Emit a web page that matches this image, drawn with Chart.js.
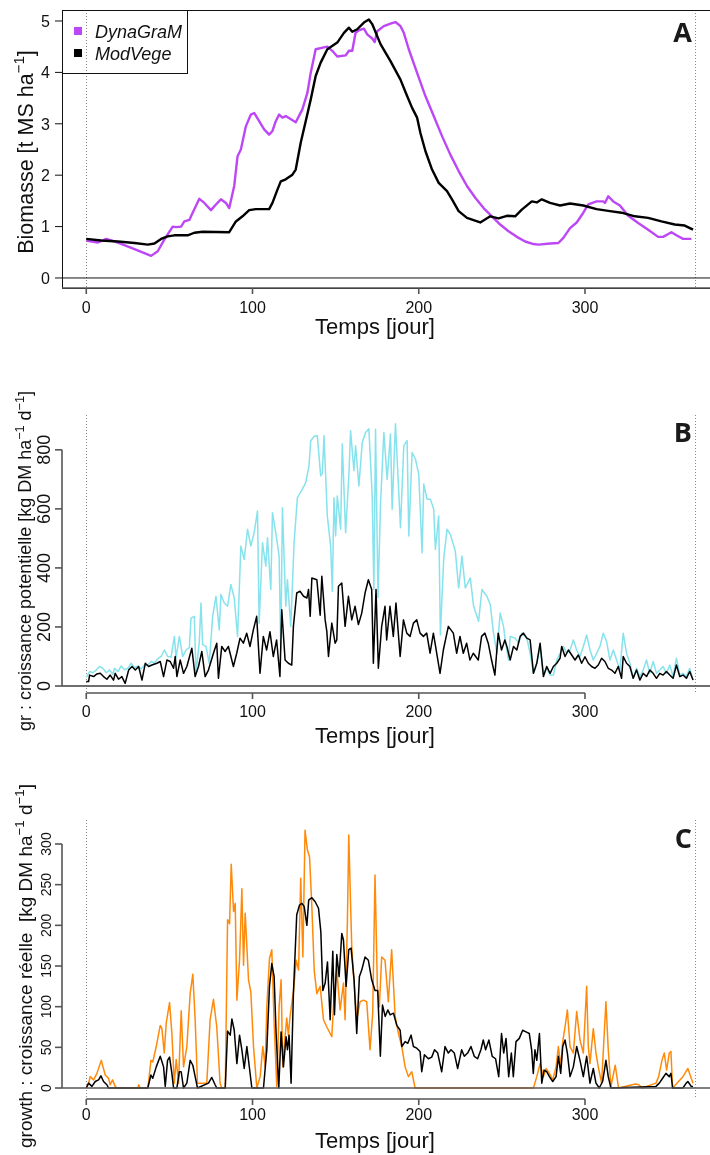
<!DOCTYPE html>
<html>
<head>
<meta charset="utf-8">
<script src="https://cdn.jsdelivr.net/npm/chart.js@4.4.1/dist/chart.umd.min.js"></script>
<style>
  html, body { margin: 0; padding: 0; background: #fff; }
  #wrap { position: relative; width: 710px; height: 1155px; overflow: hidden; }
  #wrap canvas { position: absolute; left: 0; }
</style>
</head>
<body>
<div id="wrap">
  <canvas id="chartA" width="710" height="350" style="top:0px"></canvas>
  <canvas id="chartB" width="710" height="375" style="top:385px"></canvas>
  <canvas id="chartC" width="710" height="385" style="top:770px"></canvas>
</div>
<script>
// ── Data (day, value) ─────────────────────────────────────────
const xTicks     = [0, 100, 200, 300];
const markerDays = [0, 366];

// A : biomasse [t MS/ha]
const biomTicks = [0, 1, 2, 3, 4, 5];
const dynaBiomasse = [
  [0,0.73],[7,0.69],[12,0.76],[19,0.69],[29,0.56],[39,0.43],[43,0.52],[47,0.75],[52,1.0],[54,0.99],
  [57,1.0],[59,1.10],[62,1.13],[64,1.27],[68,1.54],[71,1.46],[75,1.32],[78,1.43],[81,1.53],[84,1.46],
  [86,1.36],[89,1.79],[91,2.37],[93,2.5],[96,2.95],[99,3.18],[101,3.21],[104,3.05],[107,2.89],[110,2.79],
  [112,2.86],[114,3.05],[116,3.18],[118,3.12],[120,3.15],[126,3.03],[130,3.28],[133,3.6],[135,3.99],[138,4.45],
  [145,4.5],[148,4.42],[151,4.31],[156,4.33],[158,4.42],[160,4.42],[162,4.77],[164,4.82],[167,4.85],[169,4.74],
  [172,4.66],[173.5,4.59],[175,4.8],[179,4.9],[183,4.95],[186,4.98],[189,4.9],[191,4.77],[194,4.45],[199,3.99],
  [204,3.54],[209,3.15],[214,2.76],[219,2.4],[224,2.08],[229,1.79],[234,1.56],[239,1.36],[244,1.2],[249,1.04],
  [254,0.91],[259,0.8],[264,0.71],[269,0.66],[272,0.65],[279,0.67],[284,0.68],[287,0.78],[291,0.97],[295,1.08],
  [299,1.27],[302,1.43],[307,1.49],[311,1.49],[312,1.46],[314,1.59],[317,1.49],[321,1.41],[326,1.21],[332,1.07],
  [338,0.94],[344,0.8],[347,0.8],[352,0.89],[355,0.83],[359,0.76],[364,0.76]
];
const modBiomasse = [
  [0,0.76],[9,0.73],[19,0.71],[29,0.68],[37,0.65],[41,0.67],[45,0.76],[49,0.81],[53,0.83],[61,0.83],
  [65,0.88],[70,0.9],[86,0.89],[90,1.1],[94,1.2],[98,1.32],[102,1.34],[110,1.34],[112,1.46],[115,1.72],
  [117,1.88],[120,1.92],[124,2.01],[126,2.11],[129,2.63],[132,3.05],[135,3.47],[138,3.93],[141,4.19],[145,4.45],
  [151,4.58],[155,4.77],[158,4.87],[160,4.79],[163,4.84],[167,4.97],[170,5.03],[172,4.94],[177,4.55],[183,4.22],
  [189,3.86],[193,3.54],[196,3.31],[199,3.12],[201,2.82],[204,2.47],[208,2.11],[212,1.85],[217,1.69],[220,1.53],
  [224,1.3],[229,1.17],[237,1.08],[243,1.2],[248,1.16],[253,1.21],[258,1.2],[262,1.33],[268,1.49],[271,1.47],
  [274,1.53],[279,1.46],[285,1.41],[291,1.45],[299,1.41],[307,1.34],[315,1.3],[322,1.27],[330,1.2],[338,1.17],
  [346,1.1],[354,1.04],[360,1.02],[365,0.94]
];

// B : gr, croissance potentielle [kg DM/ha/d]
const grTicks = [0, 200, 400, 600, 800];
const dynaGr = [
  [0,30],[2,49],[4,45],[6,54],[8,66],[10,60],[12,45],[14,54],[16,40],[17,60],[19,49],[21,68],[23,55],[25,60],
  [27,77],[29,62],[31,68],[33,58],[35,71],[37,70],[39,83],[41,78],[43,92],[45,100],[47,122],[49,100],[51,98],
  [53,168],[54,95],[56,168],[58,100],[60,122],[62,130],[63,230],[65,236],[66,43],[68,150],[69,281],[70,140],
  [72,134],[74,77],[76,236],[78,304],[80,190],[81,310],[83,281],[85,270],[87,344],[89,298],[91,168],[93,474],
  [95,429],[97,531],[99,474],[101,519],[103,593],[104,213],[106,485],[108,406],[109,502],[111,327],[112,587],
  [114,519],[116,440],[117,122],[118,604],[120,270],[121,360],[123,202],[125,485],[127,638],[130,667],[132,689],
  [134,746],[135,831],[137,845],[139,848],[141,712],[142,720],[143,848],[145,576],[147,474],[148,321],[149,638],
  [150,508],[151,644],[153,531],[154,820],[156,519],[158,718],[159,865],[161,729],[162,814],[164,678],[166,825],
  [168,859],[170,871],[172,644],[173,327],[174,870],[175.5,300],[177,616],[179,859],[181,700],[183,854],[184,599],
  [186,888],[189,536],[191,814],[193,831],[194,508],[196,791],[198,769],[200,718],[202,451],[203,684],[205,633],
  [207,633],[209,599],[210,463],[212,576],[213,173],[215,429],[217,531],[219,514],[222,457],[224,332],[226,440],
  [228,332],[231,366],[233,270],[236,219],[238,327],[241,304],[243,276],[245,179],[247,111],[249,247],[251,202],
  [252,156],[254,88],[255,168],[258,162],[260,145],[262,179],[265,162],[267,111],[269,43],[271,77],[273,134],
  [275,43],[277,60],[279,37],[281,37],[283,88],[285,111],[287,134],[289,111],[291,122],[293,156],[295,122],
  [297,99],[299,134],[301,173],[303,122],[305,88],[307,111],[309,134],[311,179],[313,151],[315,88],[317,122],
  [319,88],[321,54],[323,179],[325,111],[327,77],[329,26],[331,60],[333,32],[335,54],[337,88],[339,43],[341,83],
  [343,43],[345,54],[347,66],[349,43],[351,71],[353,32],[355,94],[357,37],[359,43],[361,32],[363,60],[365,20]
];
const modGr = [
  [0,15],[1.4,15],[2,37],[4.4,32],[6.4,41],[8.4,43],[10.4,32],[12.4,23],[14.4,37],[16.4,20],[17.4,43],[19.4,23],
  [21.4,32],[23.4,9],[25.5,54],[27.5,66],[29.5,54],[31.5,66],[33.5,20],[35.5,77],[37.5,66],[39.5,71],[42.5,77],
  [44.5,83],[46.5,32],[48.5,88],[50.5,83],[52.5,60],[53.5,100],[54.5,32],[56.5,88],[58.5,43],[60.5,66],[63.5,128],
  [65.5,32],[67.5,66],[69.5,117],[71.5,32],[73.5,54],[76.5,111],[78.5,145],[79.5,26],[81.5,134],[83.5,117],
  [85.5,134],[88.5,66],[90.5,111],[92.5,162],[94.5,145],[96.5,179],[98.5,134],[100.5,190],[102.5,236],[104.5,43],
  [106.5,168],[108.5,122],[110.5,184],[112.5,100],[114.5,156],[116.5,32],[117.6,258],[119.6,88],[121.6,77],
  [123.6,71],[124.6,202],[126.6,315],[128.6,321],[130.7,304],[132.7,298],[133.7,327],[134.7,236],[135.7,366],
  [138.7,360],[140.7,240],[141.7,372],[143.7,224],[144.7,185],[145.7,100],[147.7,213],[149.7,145],[150.7,156],
  [151.7,338],[153.7,349],[155.7,202],[157.7,304],[159.7,224],[161.7,270],[163.7,208],[165.7,247],[167.7,315],
  [169.7,360],[171.7,327],[172.7,77],[174.3,327],[175.7,60],[177.7,202],[179.7,270],[180.7,156],[182.7,270],
  [184.7,168],[186.3,281],[188.8,100],[190.8,224],[192.8,179],[194.8,168],[196.8,213],[198.8,224],[200.8,179],
  [202.8,168],[204.8,179],[206.8,111],[208.8,179],[210.8,111],[212.8,43],[214.8,122],[217.8,202],[220.8,179],
  [222.8,111],[224.8,168],[226.8,111],[228.8,145],[230.8,88],[232.8,111],[235.8,88],[237.8,168],[239.8,179],
  [241.8,145],[243.8,88],[245.8,37],[247.8,179],[249.8,122],[251.8,156],[253,134],[255,88],[257,134],[259,122],
  [261,168],[263,179],[265,162],[267,156],[268,100],[269,43],[271,77],[273,145],[275,32],[277,66],[279,43],
  [281,66],[283,77],[285,94],[286,134],[288,100],[290,122],[292,105],[294,88],[296,105],[298,77],[300,99],
  [302,77],[304,66],[306,60],[308,71],[310,94],[312,83],[314,60],[316,54],[318,43],[320,66],[322,26],[323,100],
  [325,77],[327,66],[329,26],[331,54],[333,20],[335,43],[337,32],[339,54],[341,43],[343,26],[345,43],[347,37],
  [349,49],[351,37],[353,26],[355,71],[357,32],[359,37],[361,26],[363,49],[365,20]
];

// C : growth, croissance réelle [kg DM/ha/d]
const growthTicks = [0, 50, 100, 150, 200, 250, 300];
const dynaGrowth = [
  [0,0],[1.4,6],[2.4,14],[4.4,10],[6.4,18],[9,34],[11.4,16],[13.4,12],[14.4,4],[15.8,10],[17.4,2],[18.4,0],
  [31,0],[31.5,4],[32.5,0],[37,0],[37.5,8],[38.9,34],[40,32],[42.1,51],[44.5,77],[45.5,73],[46.9,43],[48.1,80],
  [50.1,105],[51.5,67],[52.9,6],[54.1,35],[55.5,6],[57.1,95],[58.5,26],[60.5,51],[62.5,116],[64.1,140],[65.5,84],
  [66.9,6],[69.5,6],[72.5,6],[74.5,84],[76.5,109],[78.5,75],[80.5,6],[81.5,0],[83.6,0],[85,207],[86.2,202],
  [87.2,275],[88.6,217],[89.6,227],[90.6,108],[92.2,157],[93.6,245],[94.6,151],[95.6,215],[97.6,133],[99,118],
  [100.6,51],[102.6,0],[104.6,14],[106.2,51],[107.6,26],[108.6,100],[110.2,159],[111.6,170],[113,80],[114.6,2],
  [116,100],[117.2,133],[118.2,26],[119.4,59],[120.6,86],[121.6,65],[122.6,88],[124.7,120],[126.3,157],
  [127.7,145],[129,258],[130.3,161],[131.6,317],[133,293],[134.3,284],[135.7,223],[137.1,145],[138.7,116],
  [140.7,125],[142.7,84],[144.7,75],[146.7,67],[147.7,63],[148.7,100],[150.7,145],[152.7,96],[154.7,129],
  [155.7,84],[157.1,207],[157.9,311],[158.7,248],[159.7,174],[161.1,129],[162.7,84],[164.7,106],[166.7,108],
  [168.7,106],[170.7,47],[172.3,92],[173.7,262],[175.1,125],[176.3,100],[177.7,161],[179.7,157],[181.7,106],
  [183.7,170],[185.8,88],[187.8,67],[189.8,51],[191.8,26],[193.8,14],[195.8,20],[197.8,0],[269,0],[271,14],
  [273,30],[275,14],[276.6,24],[278.6,18],[280.6,10],[282.6,26],[284,51],[285.4,26],[286.6,57],[288,75],
  [289.4,96],[291,51],[293,43],[295,94],[297,59],[299,43],[301,125],[302,51],[303,30],[305,73],[306.6,43],
  [308,26],[310,6],[312.6,106],[314,47],[315.6,2],[318.2,28],[320.2,0],[328.4,4],[330.4,5],[332.4,4],[334.4,0],
  [342.7,6],[344.3,14],[346.3,34],[347.7,43],[349.1,22],[350.7,43],[351.7,45],[352.7,0],[358.9,14],[361.9,24],
  [363.9,12],[365,6]
];
const modGrowth = [
  [0,0],[1.4,6],[3.4,2],[5.4,8],[7.4,10],[8.8,15],[10.4,8],[12.4,4],[13.4,0],[37,0],[38.9,16],[40,12],[42.1,26],
  [44.5,39],[46.5,26],[47.5,2],[48.9,34],[50.1,38],[51.5,18],[52.5,0],[54.5,0],[56,20],[57.1,20],[58.5,0],
  [60.5,6],[62.5,34],[64.1,28],[65.5,14],[66.9,0],[73.5,6],[75.5,13],[77.5,4],[78.5,0],[83.6,0],[85,70],[86.6,65],
  [87.6,85],[89,71],[90.6,30],[92.2,65],[93.6,47],[95,24],[96.6,51],[98.2,24],[99.6,0],[106.6,0],[108.6,47],
  [110.2,125],[111.6,153],[113,137],[114.2,67],[115.8,0],[117.2,69],[118.6,26],[120.2,63],[121,47],[122,65],
  [123.2,6],[124.6,116],[126.6,213],[128.3,225],[129.7,227],[131.1,223],[132.7,200],[133.8,231],[135.7,234],
  [137.7,229],[139.7,221],[141.1,192],[142.3,120],[143.7,129],[145.1,155],[146.7,84],[148.3,168],[149.3,90],
  [150.7,164],[152.1,137],[153.7,190],[154.7,182],[156.3,125],[157.9,170],[159.3,172],[161.1,133],[162.7,67],
  [164.3,137],[165.7,145],[167.7,161],[169.7,157],[171.7,133],[173.7,120],[175.3,120],[176.9,39],[178.2,102],
  [179.8,88],[181.4,96],[182.8,90],[184.8,92],[186.8,77],[188.8,71],[189.8,51],[191.8,57],[193.4,55],[195.4,65],
  [196.8,51],[198.8,49],[200.8,45],[201.8,20],[203.4,41],[205.8,36],[207.8,38],[209.5,47],[211.4,43],[213.8,20],
  [215.8,51],[217.8,43],[219.4,47],[221.4,43],[223.4,24],[225.8,47],[227.4,39],[229.4,43],[231.4,51],[233.4,39],
  [235.4,36],[237.4,47],[238.8,59],[240.2,47],[242.2,59],[244.2,39],[246.2,36],[248.1,14],[249.8,67],[251.1,43],
  [252.5,61],[254.1,14],[255.7,43],[256.9,14],[258.5,57],[260.5,61],[262.5,71],[264.5,69],[266.5,67],[267.9,47],
  [268.9,18],[269.9,47],[271,34],[272.6,67],[274,6],[275.4,22],[277,20],[278.6,14],[280.6,8],[282.6,14],[284,39],
  [285.4,18],[286.6,51],[288,59],[289.4,43],[291,14],[293,26],[295,51],[297,34],[299,14],[301,39],[303,6],
  [305,24],[306.6,6],[308.6,0],[310.6,8],[312.6,34],[314,14],[315.6,0],[342.7,2],[344.7,6],[346.7,12],[348.7,18],
  [350.7,14],[351.7,18],[352.7,0],[358.9,0],[360.9,6],[361.9,8],[363.9,2],[365,2]
];

// ── Styling ───────────────────────────────────────────────────
const SANS   = '"Liberation Sans", Arial, Helvetica, sans-serif';
const PURPLE = '#bd47f5';
const CYAN   = '#86e2ec';
const ORANGE = '#ff8a0a';
const X_MIN  = -14.6;
const X_MAX  = 375.2;

const pts = arr => arr.map(([x, y]) => ({ x, y }));

// text with superscripts, drawn along a (possibly rotated) baseline
const drawRich = (ctx, parts, x, y, size, rot) => {
  ctx.save();
  ctx.translate(x, y);
  if (rot) ctx.rotate(rot);
  const fontOf = p => `${p.sup ? size * 0.7 : size}px ${SANS}`;
  let total = 0;
  parts.forEach(p => { ctx.font = fontOf(p); total += ctx.measureText(p.t).width; });
  let cur = -total / 2;
  ctx.textAlign = 'left';
  ctx.textBaseline = 'alphabetic';
  ctx.fillStyle = '#111';
  parts.forEach(p => {
    ctx.font = fontOf(p);
    ctx.fillText(p.t, cur, p.sup ? -size * 0.4 : 0);
    cur += ctx.measureText(p.t).width;
  });
  ctx.restore();
};

// ── R-like axes, frames and labels ────────────────────────────
const rStyle = {
  id: 'rStyle',
  beforeDatasetsDraw(chart, args, o) {
    const { ctx, chartArea: a, scales: { x } } = chart;
    ctx.save();
    ctx.strokeStyle = '#888';
    ctx.lineWidth = 1;
    ctx.setLineDash([1, 2]);
    markerDays.forEach(d => {
      const px = Math.round(x.getPixelForValue(d)) + 0.5;
      ctx.beginPath(); ctx.moveTo(px, a.top); ctx.lineTo(px, a.bottom); ctx.stroke();
    });
    ctx.restore();
  },
  afterDatasetsDraw(chart, args, o) {
    const { ctx, chartArea: a, scales: { x, y } } = chart;
    ctx.save();

    // zero line
    const y0 = y.getPixelForValue(0);
    ctx.strokeStyle = o.zeroColor;
    ctx.lineWidth = o.zeroWidth;
    ctx.beginPath(); ctx.moveTo(a.left, y0); ctx.lineTo(a.right, y0); ctx.stroke();

    if (o.box) {
      ctx.strokeStyle = '#111';
      ctx.lineWidth = 1;
      ctx.strokeRect(a.left + 0.5, a.top + 0.5, a.right - a.left + 10, a.bottom - a.top);
    }

    // x axis
    ctx.strokeStyle = '#555';
    ctx.lineWidth = 1.6;
    const xa = x.getPixelForValue(xTicks[0]), xb = x.getPixelForValue(xTicks[xTicks.length - 1]);
    ctx.beginPath(); ctx.moveTo(o.box ? a.left : xa, a.bottom); ctx.lineTo(o.box ? a.right : xb, a.bottom); ctx.stroke();
    ctx.fillStyle = '#111';
    ctx.font = `16px ${SANS}`;
    ctx.textAlign = 'center';
    ctx.textBaseline = 'alphabetic';
    xTicks.forEach(t => {
      const px = x.getPixelForValue(t);
      ctx.beginPath(); ctx.moveTo(px, a.bottom); ctx.lineTo(px, a.bottom + 6); ctx.stroke();
      ctx.fillText(String(t), px, o.xLabelBase);
    });

    // y axis
    const yt = o.yTicks;
    ctx.strokeStyle = o.box ? '#111' : '#555';
    ctx.lineWidth = o.box ? 1 : 1.6;
    if (!o.box) {
      ctx.beginPath();
      ctx.moveTo(a.left, y.getPixelForValue(yt[0]));
      ctx.lineTo(a.left, y.getPixelForValue(yt[yt.length - 1]));
      ctx.stroke();
    }
    ctx.font = `${o.yTickSize}px ${SANS}`;
    yt.forEach(t => {
      const py = y.getPixelForValue(t);
      ctx.beginPath(); ctx.moveTo(a.left, py); ctx.lineTo(a.left - 7, py); ctx.stroke();
      if (o.yRotated) {
        ctx.save();
        ctx.translate(o.yLabelX, py);
        ctx.rotate(-Math.PI / 2);
        ctx.textAlign = 'center';
        ctx.fillText(String(t), 0, 0);
        ctx.restore();
      } else {
        ctx.textAlign = 'right';
        ctx.fillText(String(t), o.yLabelX, py + o.yTickSize * 0.36);
      }
    });

    // titles
    drawRich(ctx, [{ t: 'Temps [jour]' }], 375, o.xTitleBase, 22, 0);
    drawRich(ctx, o.yTitle, o.yTitleX, o.yTitleY, o.yTitleSize, -Math.PI / 2);

    // panel letter
    ctx.fillStyle = '#1a1a1a';
    ctx.font = `bold 27px "Open Sans", ${SANS}`;
    ctx.textAlign = 'right';
    ctx.fillText(o.letter, 692, o.letterBase);

    // legend (panel A only)
    if (o.legend) {
      ctx.strokeStyle = '#111';
      ctx.lineWidth = 1;
      ctx.strokeRect(62.5, 10.5, 125, 63);
      ctx.fillStyle = PURPLE; ctx.fillRect(74, 27, 8, 8);
      ctx.fillStyle = '#000'; ctx.fillRect(74, 49, 8, 8);
      ctx.fillStyle = '#111';
      ctx.font = `italic 18px ${SANS}`;
      ctx.textAlign = 'left';
      ctx.fillText('DynaGraM', 95, 38);
      ctx.fillText('ModVege', 95, 60);
    }
    ctx.restore();
  },
};

const makeChart = (id, datasets, yMin, yMax, pad, style) => new Chart(document.getElementById(id), {
  type: 'line',
  data: { datasets },
  options: {
    responsive: false,
    animation:  false,
    layout:     { padding: pad },
    scales: {
      x: { type: 'linear', min: X_MIN, max: X_MAX, display: false },
      y: { type: 'linear', min: yMin,  max: yMax,  display: false },
    },
    elements: {
      point: { radius: 0 },
      line:  { tension: 0, borderJoinStyle: 'round', fill: false },
    },
    plugins: {
      legend:  { display: false },
      tooltip: { enabled: false },
      rStyle:  style,
    },
  },
  plugins: [rStyle],
});

// ── Panel A ───────────────────────────────────────────────────
makeChart('chartA', [
  { data: pts(modBiomasse),  borderColor: '#000', borderWidth: 2.4 },
  { data: pts(dynaBiomasse), borderColor: PURPLE, borderWidth: 2.4 },
], -0.195, 5.214, { left: 62, right: 0, top: 10, bottom: 62 }, {
  box: true, zeroColor: '#111', zeroWidth: 1,
  yTicks: biomTicks, yTickSize: 16, yRotated: false, yLabelX: 50,
  xLabelBase: 313, xTitleBase: 334,
  yTitle: [{ t: 'Biomasse [t MS ha' }, { t: '−1', sup: true }, { t: ']' }],
  yTitleX: 33, yTitleY: 152, yTitleSize: 21.5,
  letter: 'A', letterBase: 42, legend: true,
});

// ── Panel B ───────────────────────────────────────────────────
makeChart('chartB', [
  { data: pts(modGr),  borderColor: '#000', borderWidth: 1.5 },
  { data: pts(dynaGr), borderColor: CYAN,   borderWidth: 1.5 },
], -23.7, 918, { left: 62, right: 0, top: 30, bottom: 67 }, {
  box: false, zeroColor: 'rgba(85,85,85,0.85)', zeroWidth: 2,
  yTicks: grTicks, yTickSize: 18, yRotated: true, yLabelX: 50,
  xLabelBase: 332, xTitleBase: 358,
  yTitle: [{ t: 'gr : croissance potentielle [kg DM ha' }, { t: '−1', sup: true }, { t: ' d' }, { t: '−1', sup: true }, { t: ']' }],
  yTitleX: 31, yTitleY: 176, yTitleSize: 18,
  letter: 'B', letterBase: 57, legend: false,
});

// ── Panel C ───────────────────────────────────────────────────
makeChart('chartC', [
  { data: pts(modGrowth),  borderColor: '#000', borderWidth: 1.5 },
  { data: pts(dynaGrowth), borderColor: ORANGE, borderWidth: 1.5 },
], -13.5, 329.5, { left: 62, right: 0, top: 50, bottom: 56 }, {
  box: false, zeroColor: 'rgba(85,85,85,0.75)', zeroWidth: 2,
  yTicks: growthTicks, yTickSize: 14, yRotated: true, yLabelX: 51,
  xLabelBase: 350, xTitleBase: 378,
  yTitle: [{ t: 'growth : croissance réelle  [kg DM ha' }, { t: '−1', sup: true }, { t: ' d' }, { t: '−1', sup: true }, { t: ']' }],
  yTitleX: 32, yTitleY: 196, yTitleSize: 19,
  letter: 'C', letterBase: 78, legend: false,
});
</script>
</body>
</html>
